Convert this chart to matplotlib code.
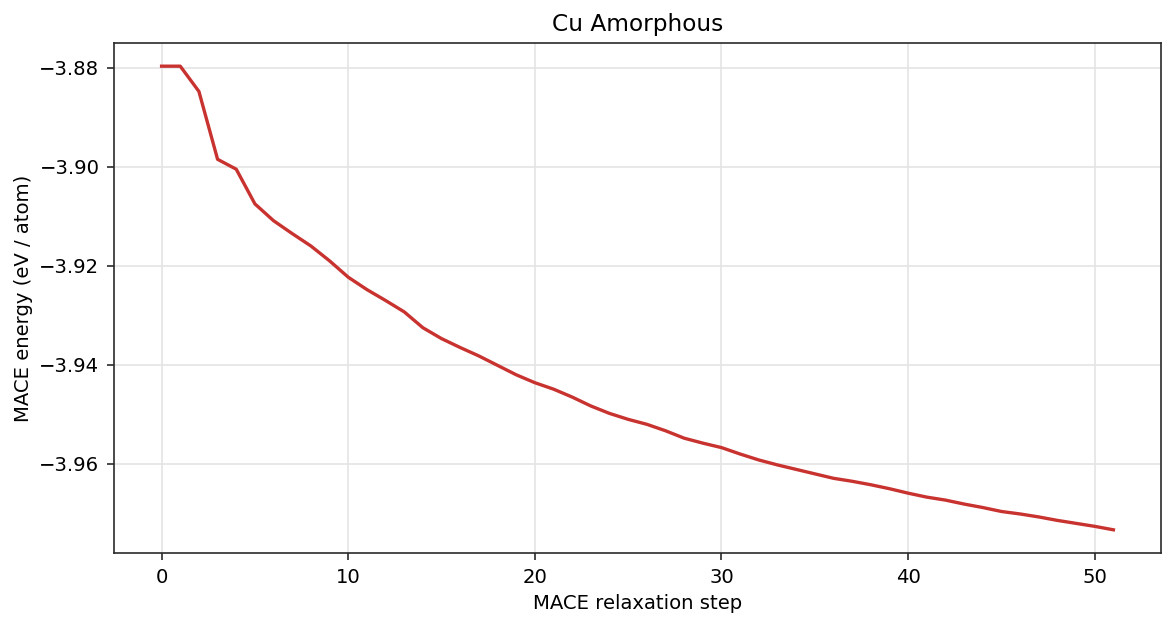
import matplotlib
matplotlib.use("Agg")
import matplotlib.pyplot as plt

steps = list(range(52))
energy = [
    -3.8797, -3.8797, -3.8848, -3.8985, -3.9005, -3.9075, -3.9109, -3.9135,
    -3.9160, -3.9190, -3.9223, -3.9248, -3.9270, -3.9293, -3.9325, -3.9347,
    -3.9365, -3.9382, -3.9401, -3.9420, -3.9436, -3.9449, -3.9465, -3.9483,
    -3.9498, -3.9510, -3.9520, -3.9533, -3.9548, -3.9558, -3.9567, -3.9580,
    -3.9592, -3.9602, -3.9611, -3.9620, -3.9629, -3.9635, -3.9642, -3.9650,
    -3.9659, -3.9667, -3.9673, -3.9681, -3.9688, -3.9696, -3.9701, -3.9707,
    -3.9714, -3.9720, -3.9726, -3.9733,
]
title = "Cu Amorphous"
xlabel = "MACE relaxation step"
ylabel = "MACE energy (eV / atom)"

fig = plt.figure(figsize=(1175 / 150, 627 / 150), dpi=150)
ax = fig.add_axes([114 / 1175, 1 - 553 / 627, (1161 - 114) / 1175, (553 - 43) / 627])
ax.plot(steps, energy, color="#c8322f", linewidth=1.6)
ax.set_title(title, fontsize=11.2)
ax.set_xlabel(xlabel, fontsize=9.4, labelpad=3.5)
ax.set_ylabel(ylabel, fontsize=9.4, labelpad=3)
ax.grid(True, color="#e4e4e4", linewidth=0.8)
ax.set_yticks([-3.88, -3.90, -3.92, -3.94, -3.96])
ax.tick_params(labelsize=9.4, color="#2a2a2a")
for s in ax.spines.values():
    s.set_color("#2a2a2a")
fig.savefig("out.png", dpi=150)
